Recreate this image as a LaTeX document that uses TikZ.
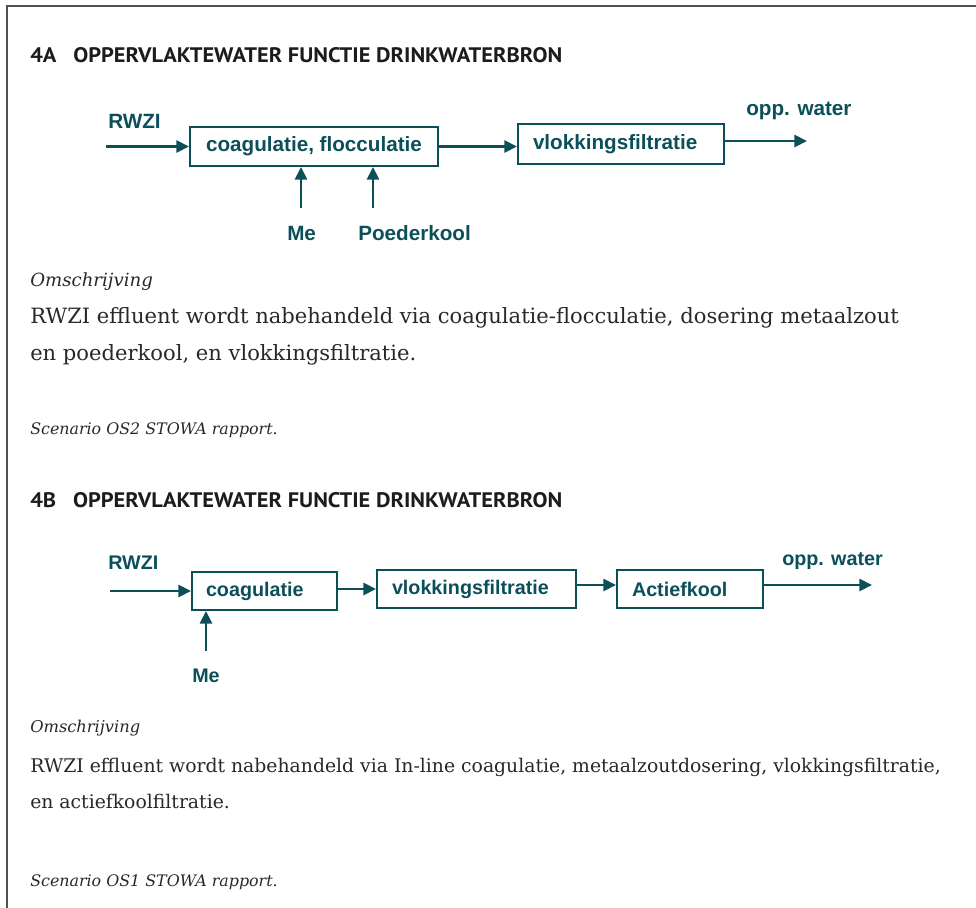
\documentclass[tikz,border=0pt]{standalone}
\usepackage{fontspec}
\setmainfont{DejaVu Serif}
\newfontfamily\diafont{Liberation Sans}
\newfontfamily\headfont{PT Sans}
\usetikzlibrary{arrows.meta}

\definecolor{flow}{RGB}{11,79,89}
\definecolor{ink}{RGB}{40,40,40}
\definecolor{headink}{RGB}{28,28,28}
\definecolor{framegray}{RGB}{80,80,80}

\newcommand\headline[1]{\resizebox{399pt}{11.25pt}{\headfont\bfseries #1}}

\tikzset{
  unit/.style={draw=flow, line width=1.5pt, text=flow, inner ysep=0pt, minimum height=#1},
  unit/.default=29.25pt,
  leftunit/.style n args={2}{text width=#1, inner xsep=#2, align=left},
  flowarrow/.style={draw=flow, line width=2.2pt, -{Triangle[length=9.5pt,width=9pt]}},
  tag/.style={anchor=base west, inner sep=0pt, text=flow},
  bigflow/.style={font=\diafont\bfseries\fontsize{15.5}{18}\selectfont},
  smallflow/.style={font=\diafont\bfseries\fontsize{14.8}{17}\selectfont},
  heading/.style={anchor=base west, inner sep=0pt, text=headink},
  body/.style={anchor=base west, inner sep=0pt, text=ink},
}

\begin{document}
\begin{tikzpicture}[x=0.75pt, y=-0.75pt]
  \useasboundingbox (0,0) rectangle (976,908);

  % page frame: left and top rules
  \draw[framegray, line width=1.3pt] (7,908) -- (7,6) -- (976,6);

  % ---------------- 4A ----------------
  \node[heading] (headA) at (30,62) {\headline{4A\hspace{0.75em}OPPERVLAKTEWATER FUNCTIE DRINKWATERBRON}};

  \node[unit, bigflow, minimum width=186pt] (coagA) at (314,146.5) {coagulatie, flocculatie};
  \node[unit=30pt, bigflow, leftunit={132pt}{11.25pt}] (filtA) at (621,144) {vlokkingsfiltratie};

  \node[tag, bigflow] (rwziA) at (108,128) {RWZI};
  \node[tag, bigflow] (outA) at (746,115) {opp. water};
  \node[tag, bigflow] (meA) at (287,240) {Me};
  \node[tag, bigflow] (pkA) at (358,240) {Poederkool};

  \coordinate (inA) at (106,146.5);
  \coordinate (endA) at (807,141);
  \coordinate (meAsrc) at (301,208);
  \coordinate (pkAsrc) at (373,208);

  \draw[flowarrow] (inA) -- (coagA.west);
  \draw[flowarrow] (coagA.east) -- (coagA.east -| filtA.west);
  \draw[flowarrow] (filtA.east |- endA) -- (endA);
  \draw[flowarrow] (meAsrc) -- (meAsrc |- coagA.south);
  \draw[flowarrow] (pkAsrc) -- (pkAsrc |- coagA.south);

  \node[body, font=\fontsize{13.6}{16}\selectfont\itshape] (descA) at (30,286) {Omschrijving};
  \node[body, font=\fontsize{15.8}{19}\selectfont] (lineA1) at (30,323)
    {RWZI effluent wordt nabehandeld via coagulatie-flocculatie, dosering metaalzout};
  \node[body, font=\fontsize{15.8}{19}\selectfont] (lineA2) at (30,360)
    {en poederkool, en vlokkingsfiltratie.};
  \node[body, font=\fontsize{11.9}{14}\selectfont\itshape] (srcA) at (30,434)
    {Scenario OS2 STOWA rapport.};

  % ---------------- 4B ----------------
  \node[heading] (headB) at (30,507) {\headline{4B\hspace{0.75em}OPPERVLAKTEWATER FUNCTIE DRINKWATERBRON}};

  \node[unit=28.5pt, smallflow, leftunit={87.75pt}{10.5pt}] (coagB) at (264.5,591) {coagulatie};
  \node[unit=28.5pt, smallflow, leftunit={126.75pt}{11.25pt}] (filtB) at (476.5,589) {vlokkingsfiltratie};
  \node[unit=28.5pt, smallflow, leftunit={87pt}{11.25pt}] (carbB) at (690,589) {Actiefkool};

  \node[tag, smallflow] (rwziB) at (108,569) {RWZI};
  \node[tag, smallflow] (outB) at (782,565) {opp. water};
  \node[tag, smallflow] (meB) at (192,682) {Me};

  \coordinate (inB) at (110,591);
  \coordinate (endB) at (872,585);
  \coordinate (meBsrc) at (206,651);

  \draw[flowarrow] (inB) -- (coagB.west);
  \draw[flowarrow] (coagB.east |- filtB) -- (filtB.west);
  \draw[flowarrow] (filtB.east |- endB) -- (carbB.west |- endB);
  \draw[flowarrow] (carbB.east |- endB) -- (endB);
  \draw[flowarrow] (meBsrc) -- (meBsrc |- coagB.south);

  \node[body, font=\fontsize{12.2}{15}\selectfont\itshape] (descB) at (30,732) {Omschrijving};
  \node[body, font=\fontsize{14.1}{17}\selectfont] (lineB1) at (30,772)
    {RWZI effluent wordt nabehandeld via In-line coagulatie, metaalzoutdosering, vlokkingsfiltratie,};
  \node[body, font=\fontsize{14.1}{17}\selectfont] (lineB2) at (30,808)
    {en actiefkoolfiltratie.};
  \node[body, font=\fontsize{11.9}{14}\selectfont\itshape] (srcB) at (30,886)
    {Scenario OS1 STOWA rapport.};
\end{tikzpicture}
\end{document}
